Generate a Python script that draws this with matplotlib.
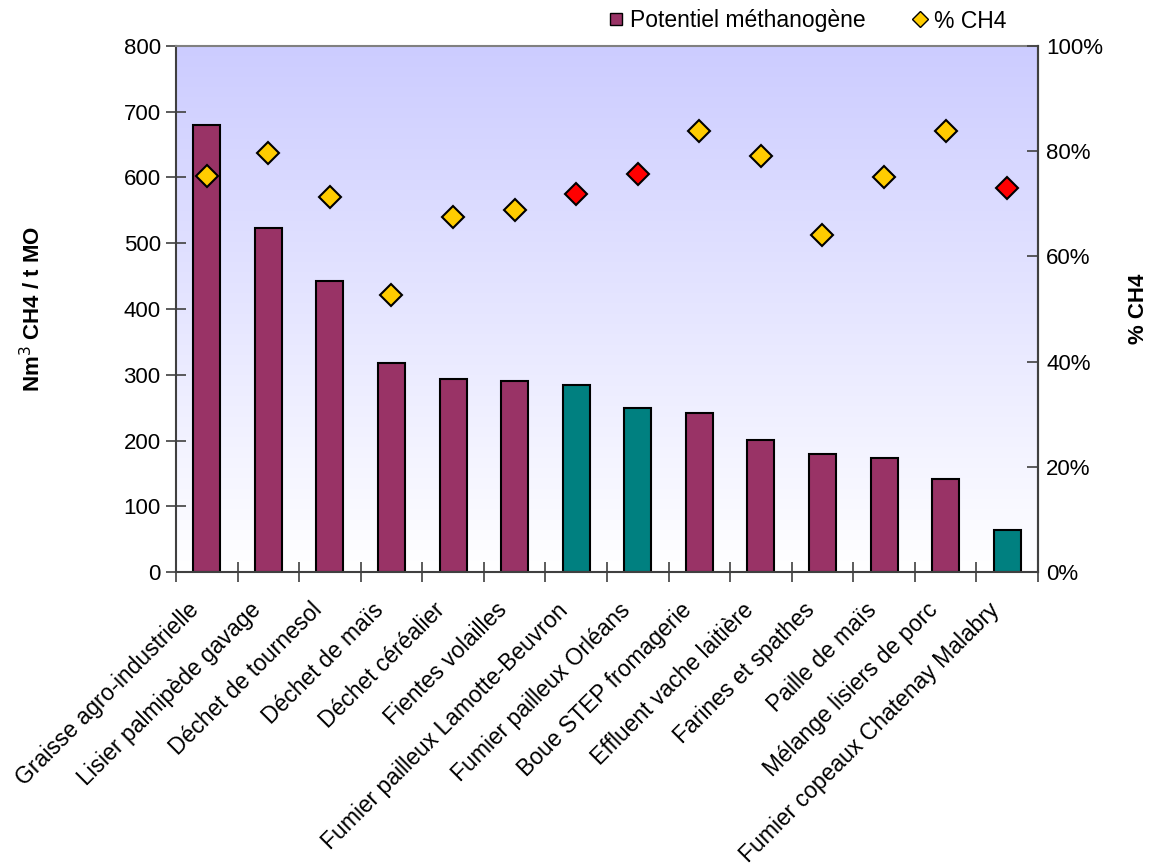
import numpy as np
import matplotlib
matplotlib.use("Agg")
import matplotlib.pyplot as plt
from matplotlib.lines import Line2D
from matplotlib.ticker import PercentFormatter, MultipleLocator, FixedLocator

plt.rcParams['font.family'] = ['Liberation Sans', 'DejaVu Sans']

categories = [
    "Graisse agro-industrielle", "Lisier palmipède gavage", "Déchet de tournesol",
    "Déchet de maïs", "Déchet céréalier", "Fientes volailles",
    "Fumier pailleux Lamotte-Beuvron", "Fumier pailleux Orléans",
    "Boue STEP fromagerie", "Effluent vache laitière", "Farines et spathes",
    "Paille de maïs", "Mélange lisiers de porc", "Fumier copeaux Chatenay Malabry",
]
potentiel = [680, 523, 443, 318, 293, 291, 285, 250, 242, 201, 180, 174, 141, 65]
pct_ch4 = [0.752, 0.797, 0.712, 0.526, 0.675, 0.688, 0.719, 0.756, 0.838, 0.790,
           0.641, 0.750, 0.838, 0.730]
# sites measured on straw/wood-chip manure are highlighted
highlight = [False, False, False, False, False, False, True, True,
             False, False, False, False, False, True]

bar_main, bar_alt = "#993366", "#008080"
mk_main, mk_alt = "#FFCC00", "#FF0000"

fig = plt.figure(figsize=(11.52, 8.66), dpi=100)
ax = fig.add_axes([176/1152, 1 - 572.3/866, (1038 - 176)/1152, (572.3 - 45.7)/866])

# vertical background gradient, lavender at top to white at bottom
top = np.array([204, 204, 255]) / 255
bot = np.array([255, 255, 255]) / 255
t = np.linspace(0, 1, 256)[:, None]
grad = (top * (1 - t) + bot * t)[:, None, :]
ax.imshow(grad, extent=[0, 1, 0, 1], transform=ax.transAxes, aspect='auto',
          zorder=0, interpolation='bilinear')

x = np.arange(len(categories))
ax.bar(x, potentiel, width=0.44,
       color=[bar_alt if h else bar_main for h in highlight],
       edgecolor='black', linewidth=1.5, zorder=2)
ax.set_xlim(-0.5, len(categories) - 0.5)
ax.set_ylim(0, 800)
ax.yaxis.set_major_locator(MultipleLocator(100))
ax.tick_params(axis='y', labelsize=16, direction='inout', length=14, width=1.2,
               color='#404040', pad=4)
ax.set_xticks(x)
ax.set_xticklabels([])
ax.xaxis.set_minor_locator(FixedLocator(np.arange(-0.5, len(categories), 1.0)))
ax.tick_params(axis='x', which='major', length=0)
ax.tick_params(axis='x', which='minor', direction='inout', length=14, width=1.2,
               color='#404040')
for xi, lab in zip(x, categories):
    ax.annotate(lab, xy=(xi, 0), xycoords=('data', 'axes fraction'),
                xytext=(-14, -19), textcoords='offset points',
                rotation=45, ha='right', va='top', rotation_mode='anchor',
                fontsize=16.5)

ax.set_ylabel("Nm$^3$ CH4 / t MO", fontsize=16, fontweight='bold', labelpad=56)
ax.spines['top'].set_color('#808080')
ax.spines['top'].set_linewidth(1.5)
for s in ('left', 'bottom', 'right'):
    ax.spines[s].set_color('#404040')
    ax.spines[s].set_linewidth(1.5)

ax2 = ax.twinx()
ax2.set_ylim(0, 1)
ax2.yaxis.set_major_locator(MultipleLocator(0.2))
ax2.yaxis.set_major_formatter(PercentFormatter(1.0, decimals=0))
ax2.tick_params(axis='y', labelsize=16, direction='in', length=8, width=1.2,
                color='#404040', pad=6)
for xi, p, h in zip(x, pct_ch4, highlight):
    ax2.plot(xi, p, marker='D', markersize=11, linestyle='none',
             markerfacecolor=mk_alt if h else mk_main,
             markeredgecolor='black', markeredgewidth=1.5, zorder=3)
ax2.set_ylabel("% CH4", fontsize=16, fontweight='bold', labelpad=18)
for s in ax2.spines.values():
    s.set_visible(False)
ax2.spines['right'].set_visible(True)
ax2.spines['right'].set_color('#404040')
ax2.spines['right'].set_linewidth(1.5)

handles = [
    Line2D([], [], marker='s', markersize=9, linestyle='none',
           markerfacecolor=bar_main, markeredgecolor='black', markeredgewidth=1),
    Line2D([], [], marker='D', markersize=8, linestyle='none',
           markerfacecolor=mk_main, markeredgecolor='black', markeredgewidth=1),
]
fig.legend(handles, ["Potentiel méthanogène", "% CH4"], ncol=2, frameon=False,
           loc='center left', bbox_to_anchor=(609/1152, 1 - 21/866),
           fontsize=16.5, handlelength=0.6, handletextpad=0.3, columnspacing=2.1,
           borderaxespad=0, borderpad=0)

fig.savefig("out.png", dpi=100)
